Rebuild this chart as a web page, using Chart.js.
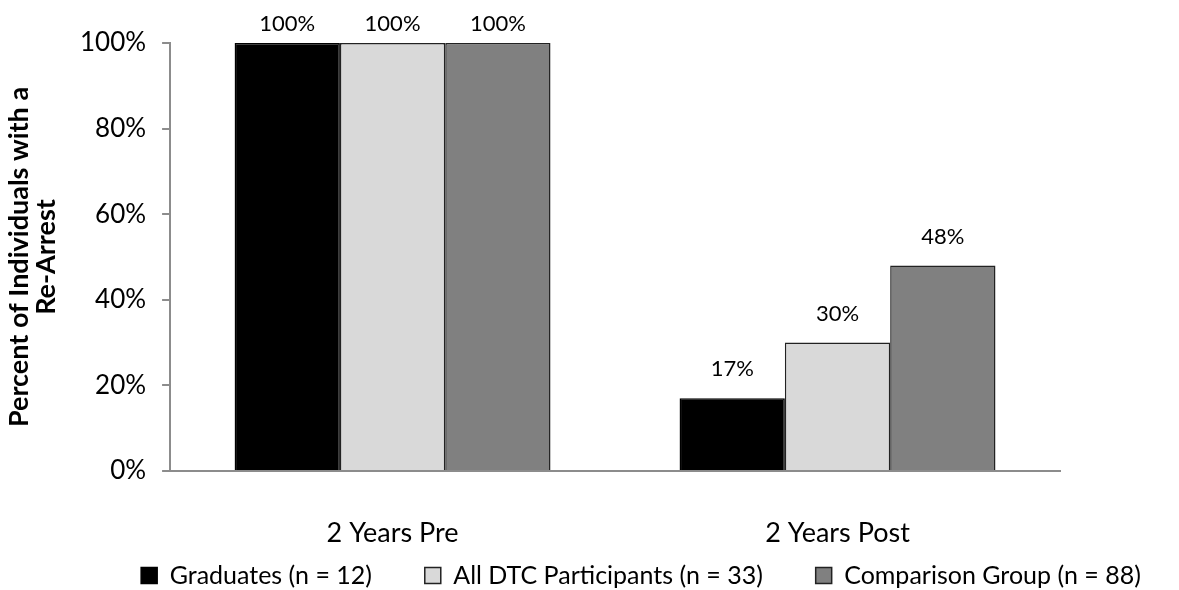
<!DOCTYPE html>
<html>
<head>
<meta charset="utf-8">
<script src="https://cdn.jsdelivr.net/npm/chart.js@4"></script>
<style>
  body { margin: 0; background: #fff; }
  #wrap { width: 1179px; height: 590px; }
</style>
</head>
<body>
<div id="wrap"><canvas id="rearrestChart" width="1179" height="590"></canvas></div>
<script>
// chart data
var categories = ['2 Years Pre', '2 Years Post'];
var graduates = [100, 17];
var allParticipants = [100, 30];
var comparison = [100, 48];
var yTicks = [0, 20, 40, 60, 80, 100];

var fontFamily = 'Lato, "Open Sans", sans-serif';

// draws the value above each bar (kept inside the canvas at the top)
var barLabels = {
  id: 'barLabels',
  afterDatasetsDraw: function(chart) {
    var ctx = chart.ctx;
    ctx.save();
    ctx.font = '22px ' + fontFamily;
    ctx.fillStyle = '#000';
    ctx.textAlign = 'center';
    ctx.textBaseline = 'bottom';
    chart.data.datasets.forEach(function(ds, i) {
      var meta = chart.getDatasetMeta(i);
      meta.data.forEach(function(bar, j) {
        var y = Math.max(bar.y - 18, 35);
        ctx.fillText(ds.data[j] + '%', bar.x, y);
      });
    });
    ctx.restore();
  }
};

// legend in the original is centred under the whole picture, not the plot
var legendShift = {
  id: 'legendShift',
  afterLayout: function(chart) {
    chart.legend.left += 108;
    chart.legend.right += 108;
  }
};

var ctx = document.getElementById('rearrestChart');
var rearrestChart = new Chart(ctx, {
  type: 'bar',
  data: {
    labels: categories,
    datasets: [{
      label: 'Graduates (n = 12)',
      data: graduates,
      backgroundColor: '#000000',
      borderColor: '#000000',
      borderWidth: 1.5
    }, {
      label: 'All DTC Participants (n = 33)',
      data: allParticipants,
      backgroundColor: '#d9d9d9',
      borderColor: '#222222',
      borderWidth: 1.5
    }, {
      label: 'Comparison Group (n = 88)',
      data: comparison,
      backgroundColor: '#808080',
      borderColor: '#222222',
      borderWidth: 1.5
    }]
  },
  options: {
    responsive: false,
    animation: false,
    layout: { padding: { top: 43, right: 119, left: 6, bottom: -8 } },
    plugins: {
      tooltip: { enabled: false },
      legend: {
        position: 'bottom',
        labels: {
          boxWidth: 16,
          boxHeight: 16,
          padding: 8,
          color: '#000',
          font: { size: 25, family: fontFamily },
          // extra spaces keep the items apart like the original
          generateLabels: function(chart) {
            var items = Chart.defaults.plugins.legend.labels.generateLabels(chart);
            items.forEach(function(it, k) {
              if (k < items.length - 1) it.text = it.text + '       ';
            });
            return items;
          }
        }
      }
    },
    datasets: {
      bar: { categoryPercentage: 0.71, barPercentage: 1.0 }
    },
    scales: {
      x: {
        grid: { display: false },
        border: { color: '#8c8c8c', width: 2 },
        ticks: { color: '#000', padding: 38, font: { size: 27, family: fontFamily } },
        afterFit: function(scale) { scale.height = 84; }
      },
      y: {
        min: 0,
        max: 100,
        afterBuildTicks: function(axis) {
          axis.ticks = yTicks.map(function(v) { return { value: v }; });
        },
        grid: { drawOnChartArea: false, drawTicks: true, tickLength: 8, color: '#8c8c8c', lineWidth: 2 },
        border: { color: '#8c8c8c', width: 2 },
        ticks: {
          color: '#000',
          padding: 16,
          font: { size: 26, family: fontFamily },
          callback: function(v) { return v + '%'; }
        },
        title: {
          display: true,
          text: ['Percent of Individuals with a', 'Re-Arrest'],
          color: '#000',
          font: { size: 27, weight: 'bold', family: fontFamily, lineHeight: 1.0 },
          padding: { top: 0, bottom: 4 }
        }
      }
    }
  },
  plugins: [barLabels, legendShift]
});
</script>
</body>
</html>
